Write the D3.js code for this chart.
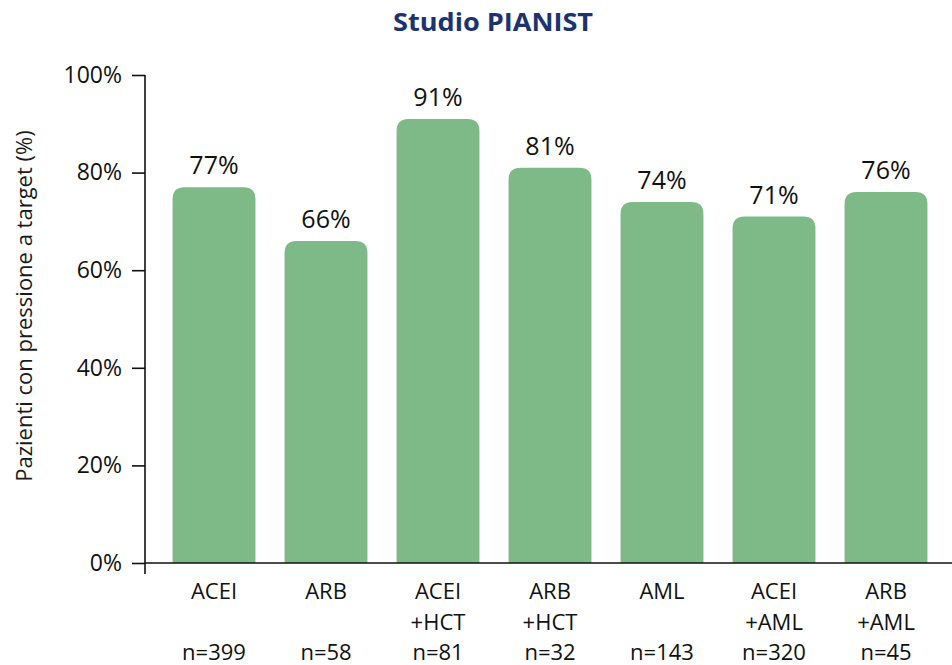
<!DOCTYPE html>
<html>
<head>
<meta charset="utf-8">
<script src="https://cdn.jsdelivr.net/npm/d3@7"></script>
<style>
  body { margin: 0; background: #fff; }
  text { font-family: "Open Sans", "Noto Sans", sans-serif; }
</style>
</head>
<body>
<svg id="chart" width="952" height="665"></svg>
<script>
// Treatment groups (two label lines each), group sizes and share at target
const categories = ["ACEI", "ARB", "ACEI +HCT", "ARB +HCT", "AML", "ACEI +AML", "ARB +AML"];
const lines1 = ["ACEI", "ARB", "ACEI", "ARB", "AML", "ACEI", "ARB"];
const lines2 = ["", "", "+HCT", "+HCT", "", "+AML", "+AML"];
const sizes = ["n=399", "n=58", "n=81", "n=32", "n=143", "n=320", "n=45"];
const values = [77, 66, 91, 81, 74, 71, 76];
const yTicks = [0, 20, 40, 60, 80, 100];

const svg = d3.select("#chart");
const plotLeft = 145, plotRight = 952, plotTop = 75, plotBottom = 563;
const font = "'Open Sans', 'Noto Sans', sans-serif";
const ink = "#111";

const x = d3.scaleBand()
  .domain(categories)
  .range([158, 942])
  .paddingInner(0.26)
  .paddingOuter(0.13);

const y = d3.scaleLinear().domain([0, 100]).range([plotBottom, plotTop]);

// Title
svg.append("text")
  .attr("x", 393).attr("y", 31)
  .attr("font-size", 25).attr("font-weight", 700)
  .attr("textLength", 200).attr("lengthAdjust", "spacingAndGlyphs")
  .attr("fill", "#1b3370")
  .text("Studio PIANIST");

// Y axis title
svg.append("text")
  .attr("transform", `translate(32,306) rotate(-90)`)
  .attr("text-anchor", "middle")
  .attr("font-size", 22)
  .attr("fill", "#1a1a1a")
  .text("Pazienti con pressione a target (%)");

// Bars with rounded top corners
const r = 12;
svg.append("g").selectAll("path")
  .data(values)
  .join("path")
  .attr("fill", "#7dba87")
  .attr("d", (d, i) => {
    const x0 = x(categories[i]), w = x.bandwidth();
    const yt = y(d), yb = y(0);
    return `M${x0},${yb} V${yt + r} Q${x0},${yt} ${x0 + r},${yt} H${x0 + w - r} Q${x0 + w},${yt} ${x0 + w},${yt + r} V${yb} Z`;
  });

// Value labels
svg.append("g").selectAll("text")
  .data(values)
  .join("text")
  .attr("x", (d, i) => x(categories[i]) + x.bandwidth() / 2)
  .attr("y", d => y(d) - 13)
  .attr("text-anchor", "middle")
  .attr("font-size", 25)
  .attr("fill", ink)
  .text(d => d + "%");

// Y axis
const yAxis = d3.axisLeft(y)
  .tickValues(yTicks)
  .tickSize(13)
  .tickPadding(10)
  .tickFormat(d => d + "%");
const gy = svg.append("g").attr("transform", `translate(${plotLeft},0)`).call(yAxis);
gy.select(".domain").remove();
gy.selectAll(".tick line").attr("stroke", ink).attr("stroke-width", 1.6);
gy.selectAll(".tick text").attr("font-size", 23).attr("fill", ink)
  .attr("font-family", font);
gy.append("line")
  .attr("x1", 0).attr("x2", 0)
  .attr("y1", plotTop).attr("y2", plotBottom + 11)
  .attr("stroke", ink).attr("stroke-width", 1.6);

// X axis baseline
svg.append("line")
  .attr("x1", plotLeft).attr("x2", plotRight)
  .attr("y1", plotBottom).attr("y2", plotBottom)
  .attr("stroke", ink).attr("stroke-width", 1.6);

// Category labels
const cat = svg.append("g").selectAll("g")
  .data(categories)
  .join("g")
  .attr("transform", d => `translate(${x(d) + x.bandwidth() / 2},0)`);
cat.append("text").attr("y", 599).attr("text-anchor", "middle")
  .attr("font-size", 22).attr("fill", ink).text((d, i) => lines1[i]);
cat.append("text").attr("y", 630).attr("text-anchor", "middle")
  .attr("font-size", 22).attr("fill", ink).text((d, i) => lines2[i]);
cat.append("text").attr("y", 660).attr("text-anchor", "middle")
  .attr("font-size", 22).attr("fill", ink).text((d, i) => sizes[i]);
</script>
</body>
</html>
